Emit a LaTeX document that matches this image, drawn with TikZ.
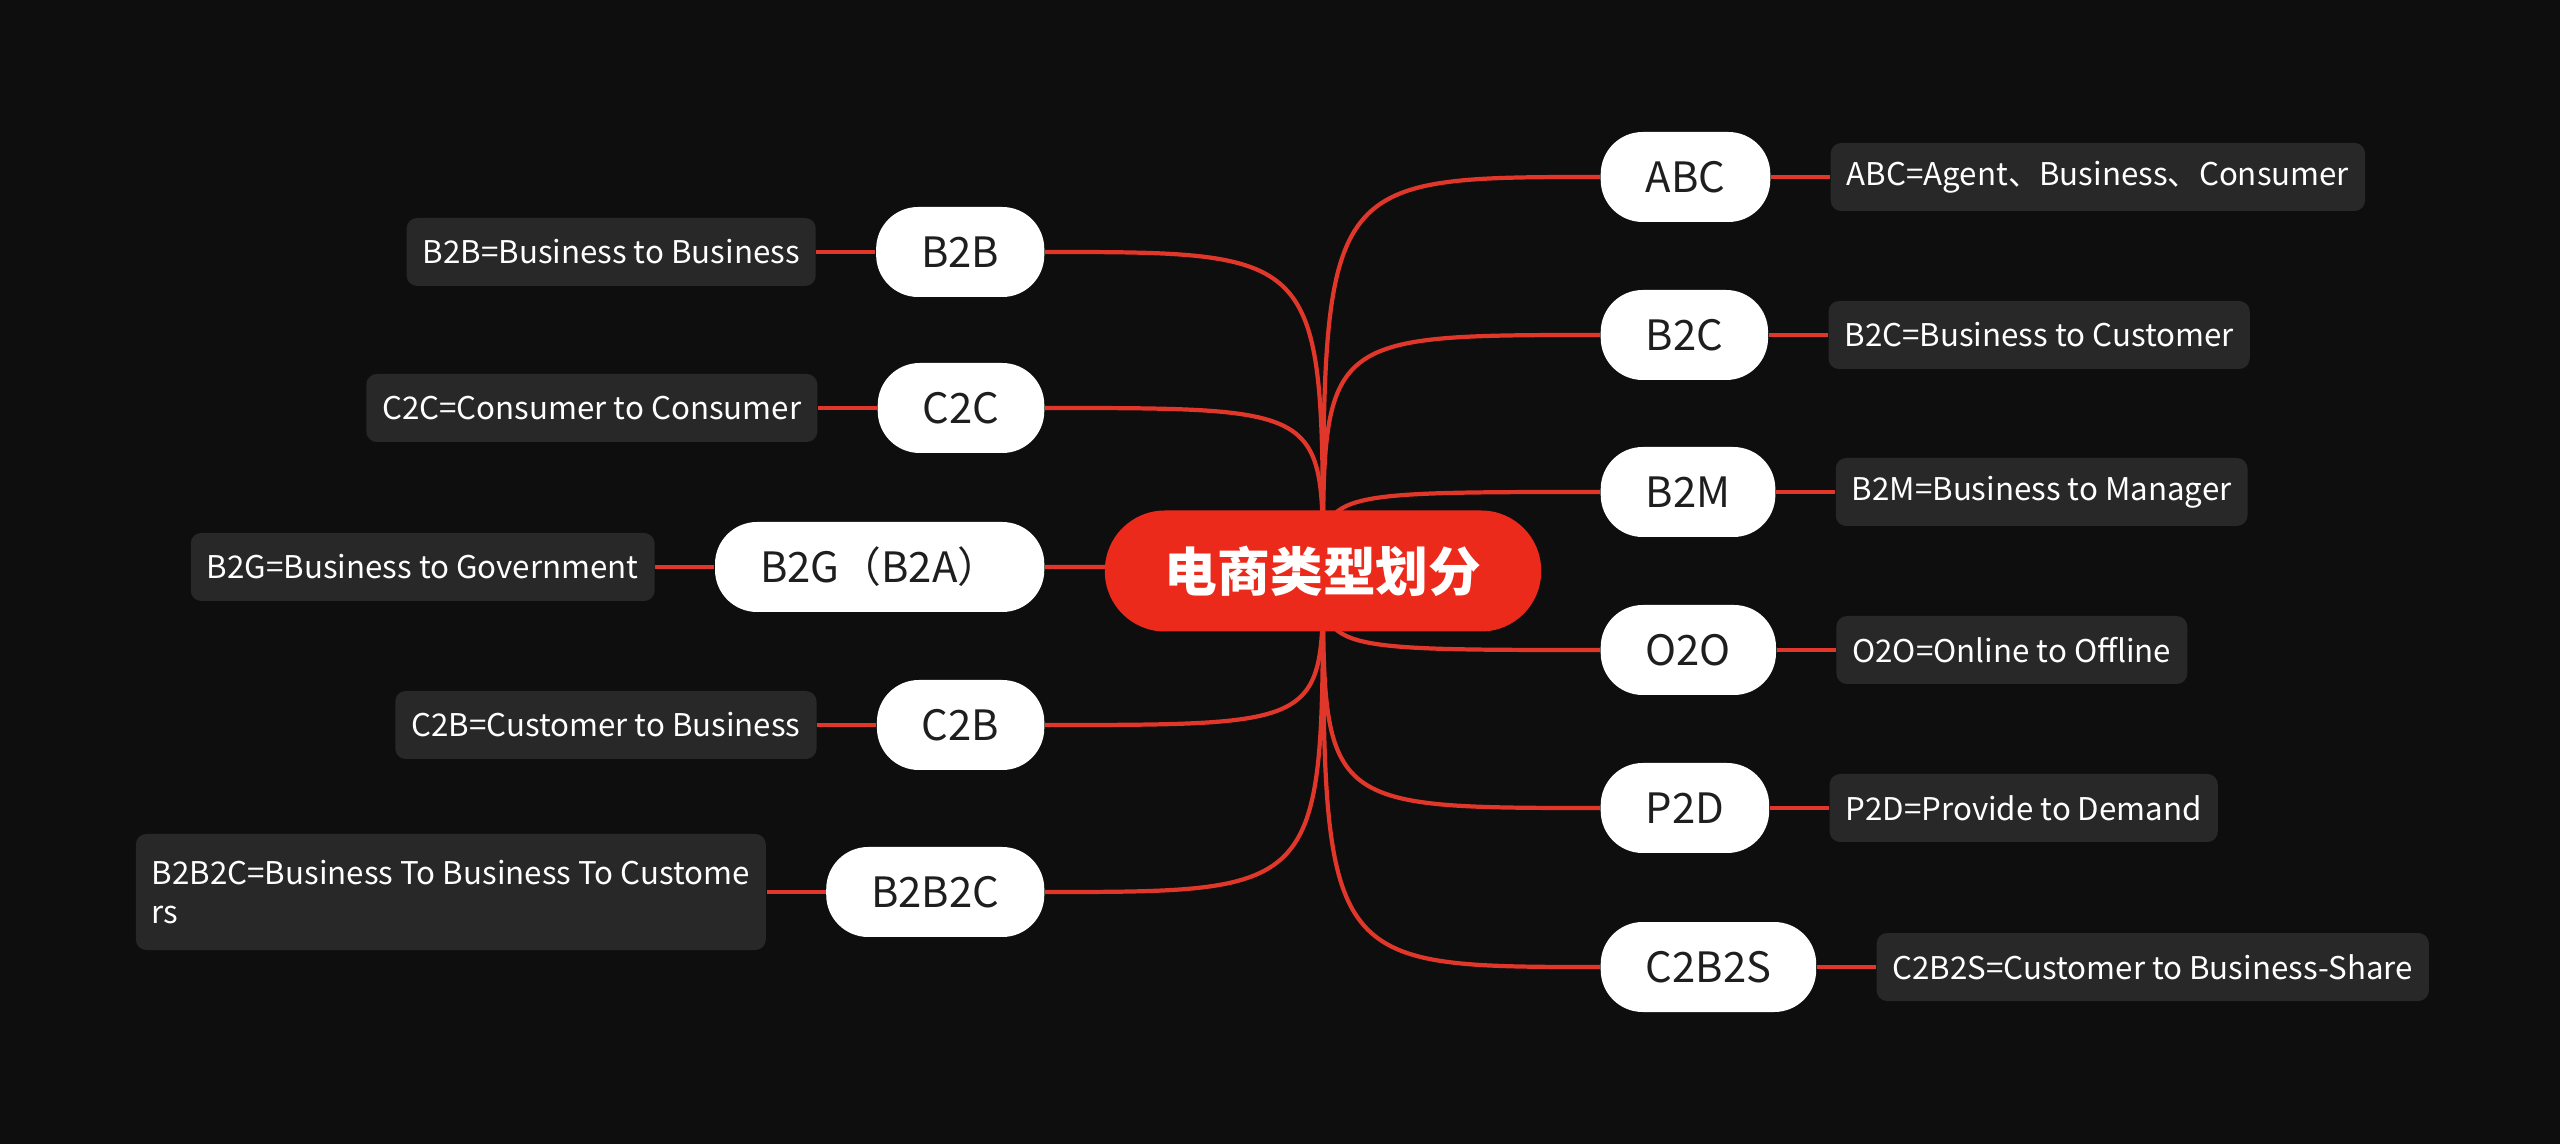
\documentclass[tikz,border=0pt]{standalone}
\usepackage{fontspec}
\setmainfont{Noto Sans CJK SC}
\usetikzlibrary{positioning}
\definecolor{night}{HTML}{0E0E0E}
\definecolor{ember}{HTML}{EC2A1C}
\definecolor{wire}{HTML}{E0372A}
\definecolor{slate}{HTML}{282828}
\definecolor{ink}{HTML}{1E1E1E}
\pgfdeclarelayer{back}
\pgfdeclarelayer{wires}
\pgfsetlayers{back,wires,main}
\tikzset{hubnode/.style={fill=ember,text=white,rounded corners=0.6cm,minimum height=1.21cm,inner xsep=0.6cm,font=\fontsize{15}{18}\selectfont\bfseries}, kind/.style={fill=white,text=ink,rounded corners=0.42cm,minimum height=0.9cm,inner xsep=0.45cm,font=\fontsize{11.9}{14}\selectfont}, gloss/.style={fill=slate,text=white,rounded corners=3pt,minimum height=0.68cm,inner xsep=0.16cm,align=left,font=\fontsize{8.9}{11.2}\selectfont}, branch/.style={draw=wire,line width=1.2pt}, tie/.style={draw=wire,line width=1.2pt}}

\begin{document}
\begin{tikzpicture}
\begin{pgfonlayer}{back}
\fill[night] (0,0) rectangle (25.6,-11.44);
\end{pgfonlayer}
\useasboundingbox (0,0) rectangle (25.6,-11.44);
\node[hubnode] (hub) at (13.23,-5.71) {电商类型划分};
% right side
\node[kind,anchor=west] (abc) at (16.00,-1.77) {ABC};
\node[kind,anchor=west] (b2c) at (16.00,-3.35) {B2C};
\node[kind,anchor=west] (b2m) at (16.00,-4.92) {B2M};
\node[kind,anchor=west] (o2o) at (16.00,-6.50) {O2O};
\node[kind,anchor=west] (p2d) at (16.00,-8.08) {P2D};
\node[kind,anchor=west] (c2b2s) at (16.00,-9.67) {C2B2S};
\node[gloss,right=0.59cm of abc] (abcn) {ABC=Agent、Business、Consumer};
\node[gloss,right=0.59cm of b2c] (b2cn) {B2C=Business to Customer};
\node[gloss,right=0.59cm of b2m] (b2mn) {B2M=Business to Manager};
\node[gloss,right=0.59cm of o2o] (o2on) {O2O=Online to Offline};
\node[gloss,right=0.59cm of p2d] (p2dn) {P2D=Provide to Demand};
\node[gloss,right=0.59cm of c2b2s] (c2b2sn) {C2B2S=Customer to Business-Share};
% left side
\node[kind,anchor=east] (b2b) at (10.45,-2.52) {B2B};
\node[kind,anchor=east] (c2c) at (10.45,-4.08) {C2C};
\node[kind,anchor=east] (b2g) at (10.45,-5.67) {B2G（B2A）};
\node[kind,anchor=east] (c2b) at (10.45,-7.25) {C2B};
\node[kind,anchor=east] (b2b2c) at (10.45,-8.92) {B2B2C};
\node[gloss,left=0.59cm of b2b] (b2bn) {B2B=Business to Business};
\node[gloss,left=0.59cm of c2c] (c2cn) {C2C=Consumer to Consumer};
\node[gloss,left=0.59cm of b2g] (b2gn) {B2G=Business to Government};
\node[gloss,left=0.59cm of c2b] (c2bn) {C2B=Customer to Business};
\node[gloss,left=0.59cm of b2b2c,inner ysep=0.26cm] (b2b2cn) {B2B2C=Business To Business To Custome\\rs};
\begin{pgfonlayer}{wires}
\foreach \k in {abc,b2c,b2m,o2o,p2d,c2b2s}{
  \draw[branch] (hub.center) .. controls (hub.center |- \k.west) .. (\k.west);
  \draw[tie] (\k) -- (\k n);
}
\foreach \k in {b2b,c2c,b2g,c2b,b2b2c}{
  \draw[branch] (hub.center) .. controls (hub.center |- \k.east) .. (\k.east);
  \draw[tie] (\k) -- (\k n);
}
\end{pgfonlayer}
\end{tikzpicture}
\end{document}
